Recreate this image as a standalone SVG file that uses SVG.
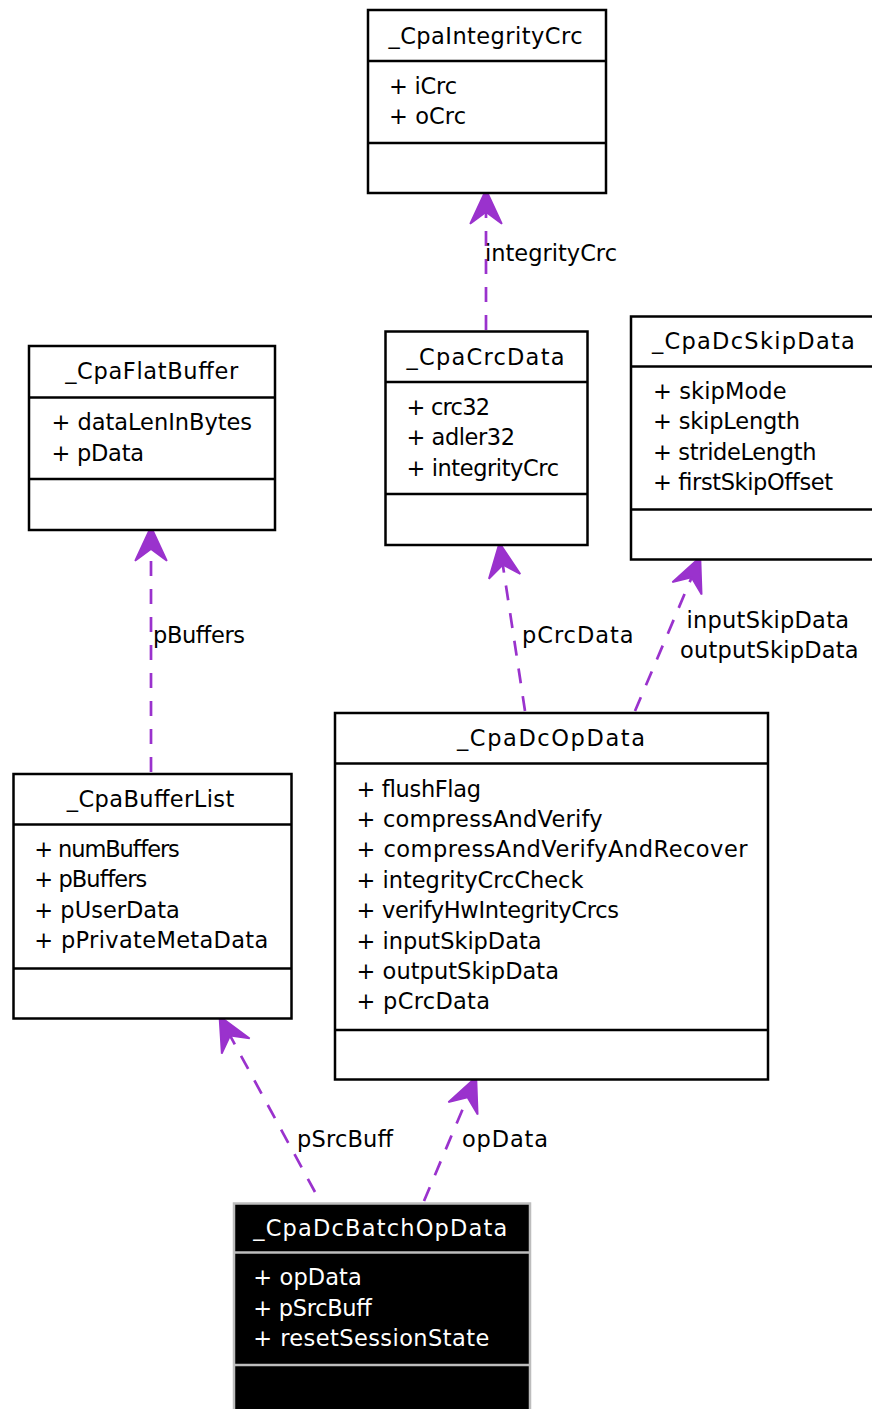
<svg xmlns="http://www.w3.org/2000/svg" width="872" height="1409" viewBox="0 0 872 1409">
<style>
text{font-family:"DejaVu Sans","Liberation Sans",sans-serif;font-size:22.5px;fill:#000}
.box{fill:#fff;stroke:#000;stroke-width:2.5}
.sep{stroke:#000;stroke-width:2.5}
.hdr{text-anchor:middle}
.dark .box{fill:#000;stroke:#bdbdbd}
.dark .sep{stroke:#bdbdbd}
.dark text{fill:#fff}
.edge{fill:none;stroke:#9a32cd;stroke-width:2.7;stroke-dasharray:15,13}
.lbl{fill:#000}
</style>
<defs>
<marker id="vee" markerUnits="userSpaceOnUse" orient="auto" refX="0" refY="0" markerWidth="40" markerHeight="40" viewBox="-12 -16 34 32" overflow="visible">
<path d="M19,0 L-10,-13.5 L0,0 L-10,13.5 Z" fill="#9a32cd" stroke="#9a32cd" stroke-width="1.5" stroke-linejoin="miter"/>
</marker>
</defs>

<g id="connectors">
<path class="edge" d="M486,330 L486,212" marker-end="url(#vee)"/>
<path class="edge" d="M151,772 L151,549" marker-end="url(#vee)"/>
<path class="edge" d="M525,711 L502.8,564.8" marker-end="url(#vee)"/>
<path class="edge" d="M635,711 L691.6,577.5" marker-end="url(#vee)"/>
<path class="edge" d="M315,1192 L230.1,1035.7" marker-end="url(#vee)"/>
<path class="edge" d="M424,1201 L467.6,1097.5" marker-end="url(#vee)"/>
<text class="lbl" x="485" y="261" textLength="132" lengthAdjust="spacing">integrityCrc</text>
<text class="lbl" x="153" y="643" textLength="92" lengthAdjust="spacing">pBuffers</text>
<text class="lbl" x="522" y="643" textLength="111.5" lengthAdjust="spacing">pCrcData</text>
<text class="lbl" x="686.5" y="628" textLength="162.5" lengthAdjust="spacing">inputSkipData</text>
<text class="lbl" x="680" y="658" textLength="178.5" lengthAdjust="spacing">outputSkipData</text>
<text class="lbl" x="297" y="1147" textLength="96" lengthAdjust="spacing">pSrcBuff</text>
<text class="lbl" x="462" y="1147" textLength="86" lengthAdjust="spacing">opData</text>
</g>

<g id="CpaIntegrityCrc">
<rect class="box" x="368" y="10" width="238" height="183"/>
<line class="sep" x1="368" y1="61" x2="606" y2="61"/>
<line class="sep" x1="368" y1="143" x2="606" y2="143"/>
<text class="hdr" x="485.5" y="44" textLength="194" lengthAdjust="spacing">_CpaIntegrityCrc</text>
<text x="389" y="93.5" textLength="68" lengthAdjust="spacing">+ iCrc</text>
<text x="389" y="124" textLength="77" lengthAdjust="spacing">+ oCrc</text>
</g>

<g id="CpaFlatBuffer">
<rect class="box" x="29" y="346" width="246" height="184"/>
<line class="sep" x1="29" y1="397.5" x2="275" y2="397.5"/>
<line class="sep" x1="29" y1="479" x2="275" y2="479"/>
<text class="hdr" x="151.7" y="379" textLength="173" lengthAdjust="spacing">_CpaFlatBuffer</text>
<text x="51.5" y="430" textLength="200.5" lengthAdjust="spacing">+ dataLenInBytes</text>
<text x="51.5" y="460.5" textLength="92.5" lengthAdjust="spacing">+ pData</text>
</g>

<g id="CpaCrcData">
<rect class="box" x="385.5" y="331.5" width="202" height="213.5"/>
<line class="sep" x1="385.5" y1="382" x2="587.5" y2="382"/>
<line class="sep" x1="385.5" y1="494" x2="587.5" y2="494"/>
<text class="hdr" x="485.5" y="364.5" textLength="158" lengthAdjust="spacing">_CpaCrcData</text>
<text x="406.5" y="414.5" textLength="83.5" lengthAdjust="spacing">+ crc32</text>
<text x="406.5" y="445" textLength="108.5" lengthAdjust="spacing">+ adler32</text>
<text x="406.5" y="475.5" textLength="152.5" lengthAdjust="spacing">+ integrityCrc</text>
</g>

<g id="CpaDcSkipData">
<rect class="box" x="631" y="316.5" width="245" height="243"/>
<line class="sep" x1="631" y1="366.5" x2="876" y2="366.5"/>
<line class="sep" x1="631" y1="509.5" x2="876" y2="509.5"/>
<text class="hdr" x="753.4" y="349" textLength="203" lengthAdjust="spacing">_CpaDcSkipData</text>
<text x="653" y="398.5" textLength="133.5" lengthAdjust="spacing">+ skipMode</text>
<text x="653" y="429" textLength="147" lengthAdjust="spacing">+ skipLength</text>
<text x="653" y="459.5" textLength="163.5" lengthAdjust="spacing">+ strideLength</text>
<text x="653" y="490" textLength="180" lengthAdjust="spacing">+ firstSkipOffset</text>
</g>

<g id="CpaDcOpData">
<rect class="box" x="335" y="713" width="433" height="366.5"/>
<line class="sep" x1="335" y1="763.5" x2="768" y2="763.5"/>
<line class="sep" x1="335" y1="1030" x2="768" y2="1030"/>
<text class="hdr" x="551" y="746" textLength="188" lengthAdjust="spacing">_CpaDcOpData</text>
<text x="356.5" y="796.5" textLength="124.5" lengthAdjust="spacing">+ flushFlag</text>
<text x="356.5" y="826.9" textLength="246" lengthAdjust="spacing">+ compressAndVerify</text>
<text x="356.5" y="857.3" textLength="391" lengthAdjust="spacing">+ compressAndVerifyAndRecover</text>
<text x="356.5" y="887.7" textLength="227" lengthAdjust="spacing">+ integrityCrcCheck</text>
<text x="356.5" y="918.1" textLength="262.5" lengthAdjust="spacing">+ verifyHwIntegrityCrcs</text>
<text x="356.5" y="948.5" textLength="185" lengthAdjust="spacing">+ inputSkipData</text>
<text x="356.5" y="978.9" textLength="202.5" lengthAdjust="spacing">+ outputSkipData</text>
<text x="356.5" y="1009.3" textLength="133.5" lengthAdjust="spacing">+ pCrcData</text>
</g>

<g id="CpaBufferList">
<rect class="box" x="13.5" y="774" width="278" height="244.5"/>
<line class="sep" x1="13.5" y1="824.5" x2="291.5" y2="824.5"/>
<line class="sep" x1="13.5" y1="968.5" x2="291.5" y2="968.5"/>
<text class="hdr" x="150.5" y="807" textLength="167.5" lengthAdjust="spacing">_CpaBufferList</text>
<text x="34.3" y="856.5" textLength="145.5" lengthAdjust="spacing">+ numBuffers</text>
<text x="34.3" y="887" textLength="113" lengthAdjust="spacing">+ pBuffers</text>
<text x="34.3" y="917.5" textLength="145.5" lengthAdjust="spacing">+ pUserData</text>
<text x="34.3" y="948" textLength="234" lengthAdjust="spacing">+ pPrivateMetaData</text>
</g>

<g id="CpaDcBatchOpData" class="dark">
<rect class="box" x="234" y="1203.5" width="296" height="215"/>
<line class="sep" x1="234" y1="1252.5" x2="530" y2="1252.5"/>
<line class="sep" x1="234" y1="1365" x2="530" y2="1365"/>
<text class="hdr" x="380.3" y="1236" textLength="254" lengthAdjust="spacing">_CpaDcBatchOpData</text>
<text x="253.3" y="1285" textLength="108.5" lengthAdjust="spacing">+ opData</text>
<text x="253.3" y="1315.5" textLength="118.5" lengthAdjust="spacing">+ pSrcBuff</text>
<text x="253.3" y="1346" textLength="236" lengthAdjust="spacing">+ resetSessionState</text>
</g>
</svg>
